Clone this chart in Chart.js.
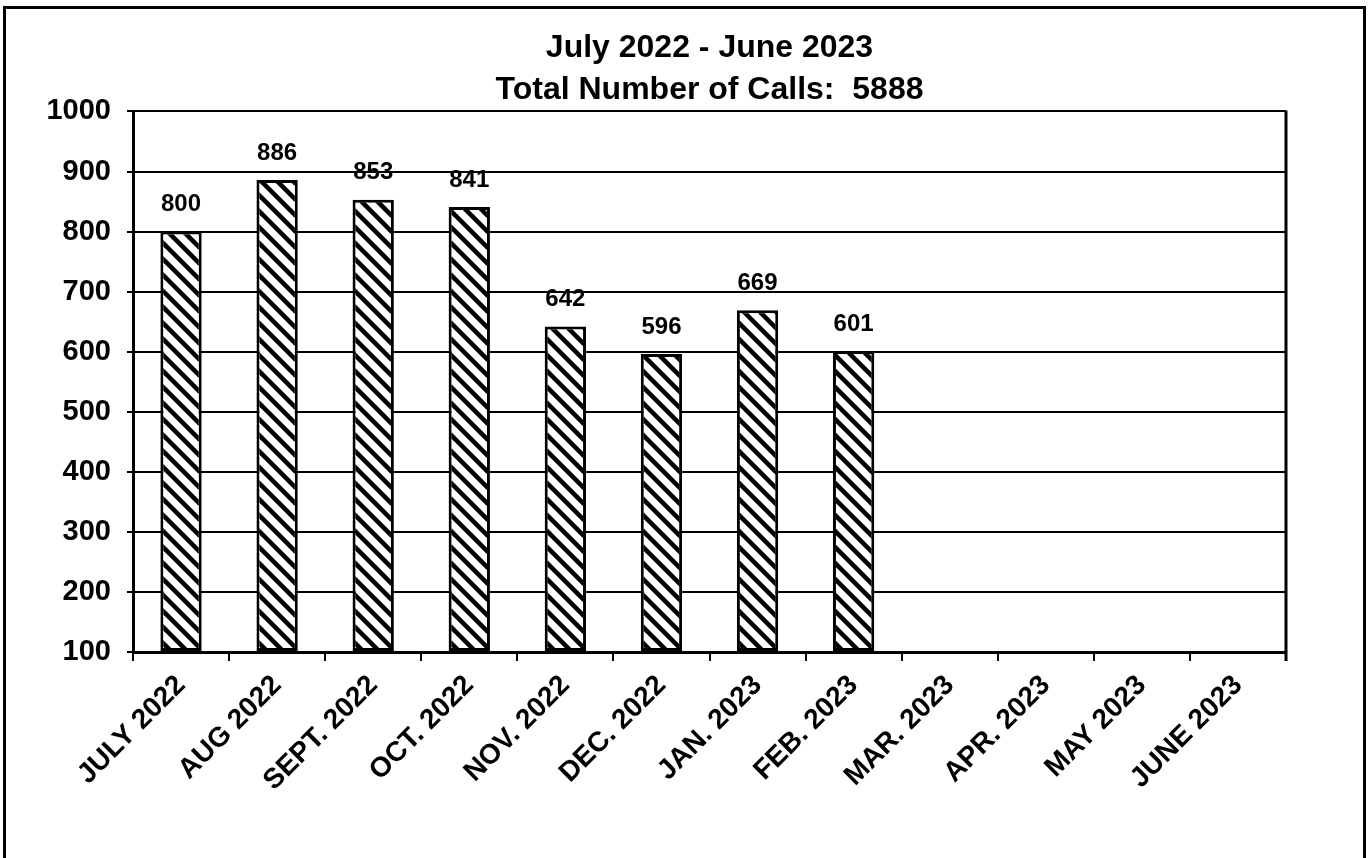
<!DOCTYPE html>
<html>
<head>
<meta charset="utf-8">
<title>Total Number of Calls</title>
<script src="https://cdn.jsdelivr.net/npm/chart.js@4/dist/chart.umd.min.js"></script>
<style>
	html, body { margin: 0; padding: 0; background: #fff; }
	#frame {
		position: absolute; left: 3px; top: 6px; width: 1357px; height: 900px;
		border: 3px solid #000; border-bottom: none;
	}
	#chart { position: absolute; left: 0; top: 0; }
</style>
</head>
<body>
<div id="frame"></div>
<canvas id="chart" width="1369" height="858"></canvas>
<script>
// data
const months = [
	"JULY 2022", "AUG 2022", "SEPT. 2022", "OCT. 2022", "NOV. 2022", "DEC. 2022",
	"JAN. 2023", "FEB. 2023", "MAR. 2023", "APR. 2023", "MAY 2023", "JUNE 2023"
];
const calls = [800, 886, 853, 841, 642, 596, 669, 601, null, null, null, null];
const titleLines = ["July 2022 - June 2023", "Total Number of Calls:  5888"];
const yMin = 100;
const yMax = 1000;
const yStep = 100;

const FONT = "'Liberation Sans', Arial, Helvetica, sans-serif";

// diagonal hatch fill for the bars (tile holds two stripes so the seams stay clean)
function makeHatch() {
	const step = 16;
	const size = step * 2;
	const c = document.createElement("canvas");
	c.width = size;
	c.height = size;
	const g = c.getContext("2d");
	g.fillStyle = "#fff";
	g.fillRect(0, 0, size, size);
	g.strokeStyle = "#000";
	g.lineWidth = 4.5;
	g.lineCap = "square";
	for (let k = -size; k <= size; k += step) {
		g.beginPath();
		g.moveTo(k - 4, -4);
		g.lineTo(k + size + 4, size + 4);
		g.stroke();
	}
	return g.createPattern(c, "repeat");
}

// value labels above each bar
const valueLabels = {
	id: "valueLabels",
	afterDatasetsDraw(chart) {
		const ctx = chart.ctx;
		const meta = chart.getDatasetMeta(0);
		ctx.save();
		ctx.fillStyle = "#000";
		ctx.font = "bold 24px " + FONT;
		ctx.textAlign = "center";
		ctx.textBaseline = "middle";
		meta.data.forEach(function (bar, i) {
			if (calls[i] === null) return;
			ctx.fillText(String(calls[i]), bar.x, bar.y - 27);
		});
		ctx.restore();
	}
};

// right edge of the plot area
const plotBorder = {
	id: "plotBorder",
	afterDraw(chart) {
		const a = chart.chartArea;
		const ctx = chart.ctx;
		ctx.save();
		ctx.strokeStyle = "#000";
		ctx.lineWidth = 3;
		ctx.beginPath();
		ctx.moveTo(a.right, a.top - 1);
		ctx.lineTo(a.right, a.bottom + 9);
		ctx.stroke();
		ctx.restore();
	}
};

new Chart(document.getElementById("chart"), {
	type: "bar",
	data: {
		labels: months,
		datasets: [{
			data: calls,
			base: yMin,
			backgroundColor: makeHatch(),
			borderColor: "#000",
			borderWidth: 3,
			borderSkipped: false,
			barPercentage: 0.43,
			categoryPercentage: 1
		}]
	},
	options: {
		responsive: false,
		animation: false,
		layout: { padding: { top: 27, right: 83, bottom: 0, left: 0 } },
		plugins: {
			legend: { display: false },
			tooltip: { enabled: false },
			title: {
				display: true,
				text: titleLines,
				color: "#000",
				fullSize: false,
				padding: { top: 0, bottom: 0 },
				font: { family: FONT, size: 32, weight: "bold", lineHeight: 1.32 }
			}
		},
		scales: {
			x: {
				grid: {
					offset: true,
					drawOnChartArea: false,
					color: "#000",
					lineWidth: 2,
					tickLength: 9
				},
				border: { color: "#000", width: 3 },
				ticks: {
					color: "#000",
					autoSkip: false,
					minRotation: 45,
					maxRotation: 45,
					padding: 8,
					font: { family: FONT, size: 28, weight: "bold" }
				},
				afterFit(scale) {
					scale.height = 206;
				}
			},
			y: {
				min: yMin,
				max: yMax,
				grid: { color: "#000", lineWidth: 2, tickLength: 6 },
				border: { color: "#000", width: 3 },
				ticks: {
					stepSize: yStep,
					color: "#000",
					padding: 16,
					font: { family: FONT, size: 29, weight: "bold" },
					callback: function (value) {
						return String(value);
					}
				},
				afterFit(scale) {
					scale.width = 133;
				}
			}
		}
	},
	plugins: [valueLabels, plotBorder]
});
</script>
</body>
</html>
